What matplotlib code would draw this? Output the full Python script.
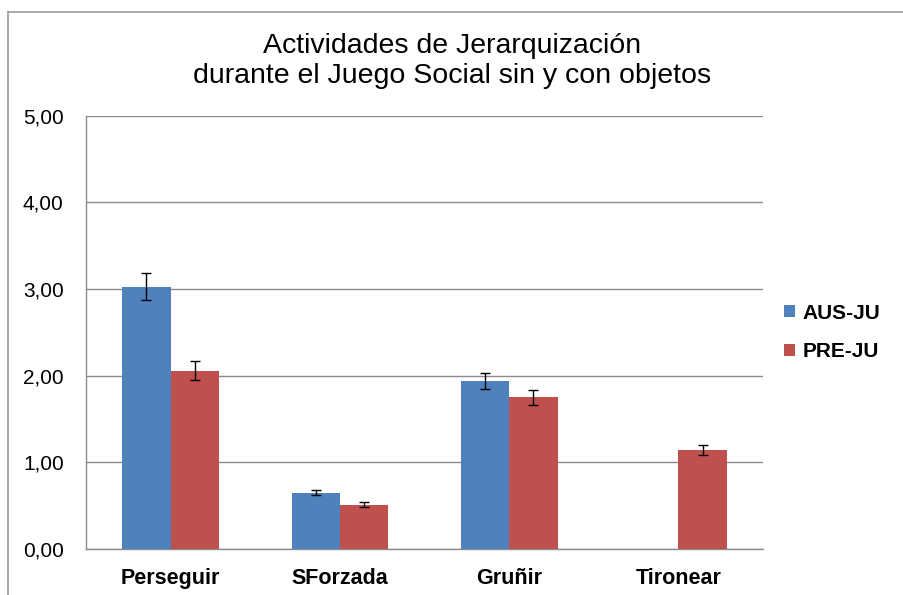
import matplotlib
matplotlib.use("Agg")
import matplotlib.pyplot as plt
from matplotlib.lines import Line2D
import numpy as np

# ── data ────────────────────────────────────────────────────────────
categories = ["Perseguir", "SForzada", "Gruñir", "Tironear"]
aus_ju = [3.03, 0.65, 1.94, 0.0]
aus_err = [0.16, 0.03, 0.09, 0.0]
pre_ju = [2.06, 0.51, 1.75, 1.14]
pre_err = [0.11, 0.03, 0.09, 0.06]
yticks = [0, 1, 2, 3, 4, 5]

blue = "#4F81BD"
red = "#C0504D"
grid_c = "#8C8C8C"

plt.rcParams["font.family"] = ["Liberation Sans", "DejaVu Sans"]

fig = plt.figure(figsize=(9.04, 5.95), dpi=100)
ax = fig.add_axes([0.0951, 0.0773, 0.749, 0.728])

x = np.arange(len(categories))
w = 1 / 3.5
ekw = dict(ecolor="black", elinewidth=1.0, capsize=3.5, capthick=1.0)

# AUS-JU has no Tironear value, so no error bar is drawn there
aus_mask = [v > 0 for v in aus_ju]
ax.bar(x - w / 2, aus_ju, width=w, color=blue, label="AUS-JU", zorder=3)
ax.errorbar((x - w / 2)[aus_mask], np.array(aus_ju)[aus_mask],
            yerr=np.array(aus_err)[aus_mask], fmt="none", zorder=4, **ekw)
ax.bar(x + w / 2, pre_ju, width=w, color=red, label="PRE-JU", zorder=3)
ax.errorbar(x + w / 2, pre_ju, yerr=pre_err, fmt="none", zorder=4, **ekw)

ax.set_xlim(-0.5, len(categories) - 0.5)
ax.set_ylim(0, 5)
ax.set_yticks(yticks)
ax.set_yticklabels([f"{t:.2f}".replace(".", ",") for t in yticks], fontsize=15)
ax.set_xticks(x)
ax.set_xticklabels(categories, fontsize=15.5, fontweight="bold")
ax.tick_params(axis="both", length=0)
ax.tick_params(axis="x", pad=14)
ax.tick_params(axis="y", pad=16)
ax.grid(axis="y", color=grid_c, linewidth=1.0, zorder=0)
for side in ("top", "right"):
    ax.spines[side].set_visible(False)
for side in ("left", "bottom"):
    ax.spines[side].set_color(grid_c)
    ax.spines[side].set_linewidth(1.0)

leg = ax.legend(loc="center left", bbox_to_anchor=(1.0, 0.50), frameon=False,
                prop=dict(size=15, weight="bold"), handlelength=0.55,
                handleheight=0.55, handletextpad=0.35, labelspacing=0.95,
                borderaxespad=0.6)

fig.suptitle("Actividades de Jerarquización\ndurante el Juego Social sin y con objetos",
             x=0.5, y=0.945, fontsize=20.5, linespacing=1.22)

# chart frame (only top and left edges are visible in the crop)
fig.add_artist(Line2D([0.009, 1.0], [0.98, 0.98], transform=fig.transFigure,
                      color="#9A9A9A", linewidth=1.2))
fig.add_artist(Line2D([0.009, 0.009], [0.0, 0.98], transform=fig.transFigure,
                      color="#9A9A9A", linewidth=1.2))

fig.savefig("out.png", dpi=100)
